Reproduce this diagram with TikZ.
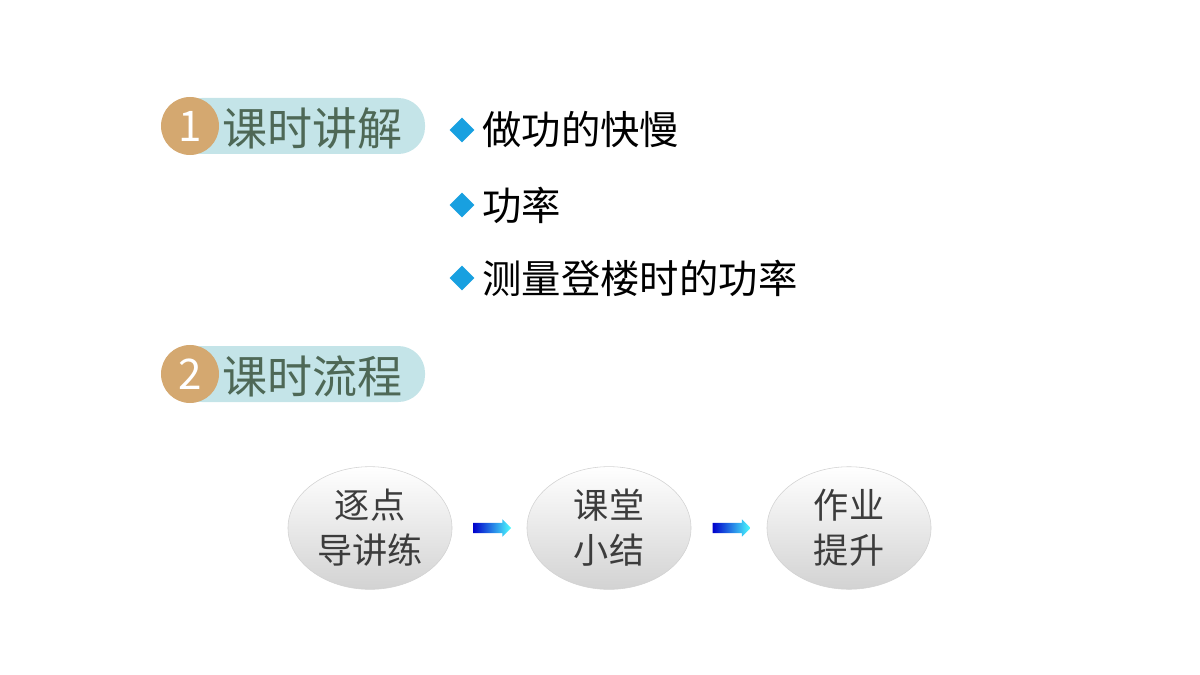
\documentclass[tikz,border=0pt]{standalone}
\usepackage{fontspec}
\setmainfont{Noto Sans CJK SC}
\usetikzlibrary{shapes.geometric,shapes.arrows,positioning,calc}
\definecolor{pillBlue}{RGB}{196, 228, 232}
\definecolor{badgeOrange}{RGB}{212, 168, 112}
\definecolor{titleGreen}{RGB}{78, 104, 86}
\definecolor{bulletCyan}{RGB}{24, 160, 224}
\definecolor{stepGray}{RGB}{60, 60, 60}
\begin{document}
\begin{tikzpicture}[x=0.025cm, y=-0.025cm,
        pill/.style={rounded corners=19pt, fill=pillBlue},
        badge/.style={circle, fill=badgeOrange, minimum size=1.45cm, inner sep=0pt, text=white, font=\fontsize{30}{32}\selectfont},
        heading/.style={anchor=west, text=titleGreen, font=\fontsize{32}{34}\selectfont},
        bullet/.style={diamond, fill=bulletCyan, minimum size=0.62cm, inner sep=0pt},
        item/.style={anchor=west, font=\fontsize{28}{30}\selectfont},
        stage/.style={ellipse, minimum width=4.1cm, minimum height=2.6cm, draw=gray!35, top color=white, bottom color=gray!35, align=center, text=stepGray, font=\fontsize{25}{32}\selectfont},
        flow/.style={single arrow, single arrow head extend=2.5pt, minimum height=0.95cm, inner xsep=0pt, inner ysep=3.5pt, left color=blue!80!black, right color=cyan!70}
    ]
        \useasboundingbox (0,0) rectangle (1200,675);
        % Section 1
        \fill[pill] (175,98) rectangle (425,154);
        \node[badge] (n1) at (190,126) {1};
        \node[heading] (h1) at (218,128) {课时讲解};
        \node[bullet] (b1) at (462,130) {};
        \node[item, right=2pt of b1] (t1) {做功的快慢};
        \node[bullet] (b2) at (462,205) {};
        \node[item, right=2pt of b2] (t2) {功率};
        \node[bullet] (b3) at (462,278) {};
        \node[item, right=2pt of b3] (t3) {测量登楼时的功率};
        % Section 2
        \fill[pill] (175,346) rectangle (425,402);
        \node[badge] (n2) at (190,374) {2};
        \node[heading] (h2) at (218,376) {课时流程};
        % Flow
        \node[stage] (s1) at (370,528) {逐点\\导讲练};
        \node[stage] (s2) at (609,528) {课堂\\小结};
        \node[stage] (s3) at (849,528) {作业\\提升};
        \node[flow] (a1) at ($(s1)!0.5!(s2)$) {};
        \node[flow] (a2) at ($(s2)!0.5!(s3)$) {};
\end{tikzpicture}
\end{document}
